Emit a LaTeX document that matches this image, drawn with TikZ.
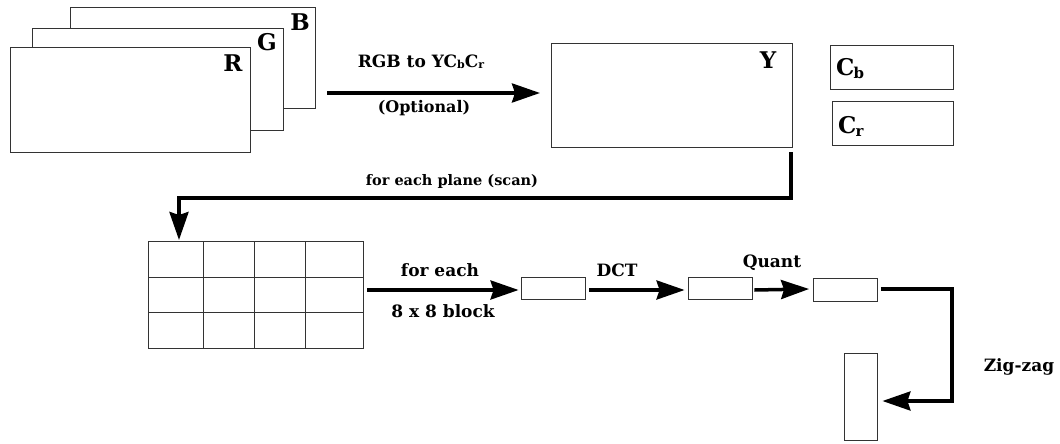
\documentclass[tikz,border=0pt]{standalone}
\usepackage{fontspec}
\setmainfont{DejaVu Serif}
\usetikzlibrary{arrows.meta}
\begin{document}
\begin{tikzpicture}[x=1pt,y=-1pt,
  frame/.style={draw=black!80,line width=0.9pt,fill=white,inner sep=0pt,minimum width=#1},
  big/.style={font=\fontsize{23}{23}\selectfont\bfseries,inner sep=0pt},
  lab/.style={font=\fontsize{17}{17}\selectfont\bfseries,inner sep=0pt},
  flow/.style={line width=3.5pt,-{Stealth[length=28pt,width=19pt,inset=3pt]}}]
\useasboundingbox (0,0) rectangle (1060,444);
% RGB planes
\node[frame=245pt,minimum height=101pt] (B) at (192.5,57.5) {};
\node[frame=251pt,minimum height=102pt] (G) at (157.5,79) {};
\node[frame=240pt,minimum height=105pt] (R) at (130,99.5) {};
\node[big] (Bl) at (300,22) {B};
\node[big] (Gl) at (267,42) {G};
\node[big] (Rl) at (233,63) {R};
% Y Cb Cr
\node[frame=241pt,minimum height=104pt] (Y) at (671.5,95) {};
\node[big] (Yl) at (768,60) {Y};
\node[frame=123pt,minimum height=44pt] (Cb) at (891.5,67) {};
\node[frame=121pt,minimum height=44pt] (Cr) at (892.5,123) {};
\node[big,anchor=west] (Cbl) at (836,69) {C\kern-1pt\raisebox{-3pt}{\fontsize{15}{15}\selectfont b}};
\node[big,anchor=west] (Crl) at (838,126) {C\kern-1pt\raisebox{-3pt}{\fontsize{15}{15}\selectfont r}};
% RGB -> YCbCr arrow
\coordinate (a1s) at (327,93);
\coordinate (a1e) at (540,93);
\draw[flow] (a1s) -- (a1e);
\node[lab] (t1) at (421,62) {RGB to YC\raisebox{-1.5pt}{\fontsize{11}{11}\selectfont b}C\raisebox{-1.5pt}{\fontsize{11}{11}\selectfont r}};
\node[lab,font=\fontsize{16}{16}\selectfont\bfseries] (t2) at (424,108) {(Optional)};
% grid
\node[frame=215pt,minimum height=107pt,fill=none] (Grid) at (255.5,294.5) {};
\foreach \x in {203,254,305} \draw[draw=black!80,line width=0.9pt] (\x,241) -- (\x,348);
\foreach \y in {277,312} \draw[draw=black!80,line width=0.9pt] (148,\y) -- (363,\y);
% scan arrow
\coordinate (s0) at (791,152);
\coordinate (s3) at (179,240);
\draw[flow] (s0) -- (791,198) -- (179,198) -- (s3);
\node[lab,font=\fontsize{14.5}{15}\selectfont\bfseries] (t3) at (452,181) {for each plane (scan)};
% blocks
\node[frame=64pt,minimum height=22pt] (b1) at (553,288.5) {};
\node[frame=64pt,minimum height=22pt] (b2) at (720,288.5) {};
\node[frame=64pt,minimum height=23pt] (b3) at (845.5,289.5) {};
\node[frame=33pt,minimum height=87pt] (b4) at (860.5,396.5) {};
\draw[flow] (367,290) -- ([xshift=-2pt]b1.west |- 0,290);
\node[lab] (t4) at (440,270) {for each};
\node[lab] (t5) at (443,311) {8 x 8 block};
\draw[flow] ([xshift=4pt]b1.east |- 0,290) -- ([xshift=-3pt]b2.west |- 0,290);
\node[lab] (t6) at (617,270) {DCT};
\draw[flow] ([xshift=2pt]b2.east |- 0,290) -- ([xshift=-4pt]b3.west |- 0,289);
\node[lab] (t7) at (772,263) {Quant};
\draw[flow] ([xshift=3pt]b3.east |- 0,289) -- (952,289) -- (952,401) -- ([xshift=5pt]b4.east |- 0,401);
\node[lab] (t8) at (1019,367) {Zig-zag};
\end{tikzpicture}
\end{document}
